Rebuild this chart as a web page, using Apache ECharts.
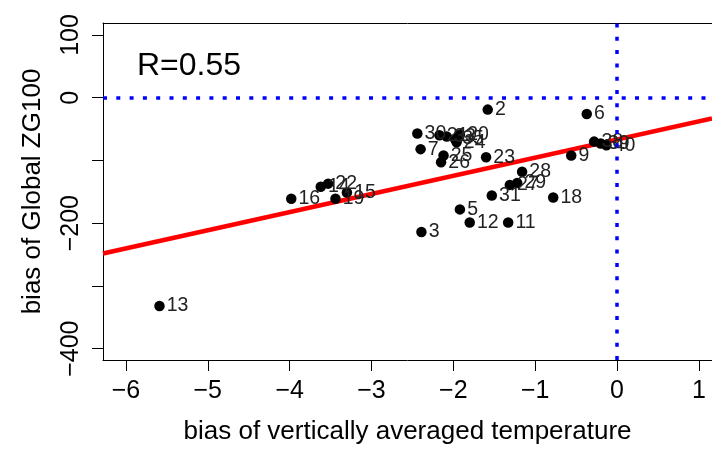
<!DOCTYPE html>
<html>
<head>
<meta charset="utf-8">
<script src="https://cdn.jsdelivr.net/npm/echarts@6/dist/echarts.min.js"></script>
<style>html,body{margin:0;padding:0;background:#fff}#c{width:712px;height:450px}</style>
</head>
<body>
<div id="c"></div>
<script>
// Model labels, temperature bias (x) and ZG100 bias (y)
var labels = ['13','16','14','22','19','15','30','7','21','33','35','20','24','25','26','23','2','6','9','38','39','40','28','27','29','31','18','5','12','11','3'];
var tempBias = [-5.59,-3.98,-3.62,-3.53,-3.44,-3.30,-2.44,-2.40,-2.17,-2.08,-1.98,-1.92,-1.96,-2.12,-2.15,-1.60,-1.58,-0.37,-0.56,-0.28,-0.20,-0.13,-1.16,-1.31,-1.22,-1.53,-0.78,-1.92,-1.80,-1.33,-2.39];
var zgBias = [-332,-161,-142,-137,-161,-151,-57,-82,-60,-62,-66,-59,-71,-92,-103,-95,-19,-26,-92,-70,-73,-76,-118,-139,-136,-156,-159,-178,-199,-199,-214];
// regression line endpoints
var fitX = [-6.28, 1.16];
var fitY = [-248.4, -33.2];
var xTicks = [-6,-5,-4,-3,-2,-1,0,1];
var yTicks = [-400,-300,-200,-100,0,100];
var yLabels = [-400,-200,0,100];
var rText = 'R=0.55';

var pts = tempBias.map(function(x,i){return {value:[x, zgBias[i]], name: labels[i]};});
var fit = fitX.map(function(x,i){return [x, fitY[i]];});
var font = 'Liberation Sans, Arial, sans-serif';
function lab(v){ return String(v).replace('-', '\u2212'); }

var chart = echarts.init(document.getElementById('c'), null, {renderer:'canvas'});
chart.setOption({
  animation:false,
  backgroundColor:'#fff',
  grid:{left:103, top:23, right:0, bottom:85, show:false},
  xAxis:[{type:'value', min:-6.28, max:1.16,
    name:'bias of vertically averaged temperature', nameLocation:'middle', nameGap:59,
    nameTextStyle:{fontFamily:font, fontSize:26, color:'#000'},
    axisLine:{onZero:false, lineStyle:{color:'#000'}},
    axisTick:{show:true, length:11, lineStyle:{color:'#000'}, customValues:xTicks},
    axisLabel:{fontFamily:font, fontSize:25, color:'#000', margin:19, customValues:xTicks, formatter:lab},
    splitLine:{show:false}},
   {type:'value', position:'top', min:-6.28, max:1.16,
    axisLine:{show:true, onZero:false, lineStyle:{color:'#000'}},
    axisTick:{show:false}, axisLabel:{show:false}, splitLine:{show:false}}],
  yAxis:{type:'value', min:-418, max:119,
    name:'bias of Global ZG100', nameLocation:'middle', nameGap:57, nameRotate:90,
    nameTextStyle:{fontFamily:font, fontSize:26, color:'#000'},
    axisLine:{onZero:false, lineStyle:{color:'#000'}},
    axisTick:{show:true, length:11, lineStyle:{color:'#000'}, customValues:yTicks},
    axisLabel:{fontFamily:font, fontSize:25, color:'#000', margin:19, rotate:90, customValues:yLabels, formatter:lab},
    splitLine:{show:false}},
  series:[
    {type:'line', data:fit, symbol:'none', lineStyle:{color:'#ff0000', width:4.5}, z:3,
      markLine:{symbol:'none', silent:true, label:{show:false},
        lineStyle:{color:'#0000ff', width:3.5, type:[4,9.3], cap:'butt'},
        data:[{yAxis:0},{xAxis:0}]}},
    {type:'scatter', data:pts, symbolSize:10.5, itemStyle:{color:'#000', opacity:1}, z:4,
      label:{show:true, position:'right', distance:2, formatter:'{b}', fontFamily:font, fontSize:19.5, color:'#222'}}
  ],
  graphic:[{type:'text', left:137, top:50, style:{text:rText, font:'32px Liberation Sans, Arial, sans-serif', fill:'#000'}}]
});
</script>
</body>
</html>
